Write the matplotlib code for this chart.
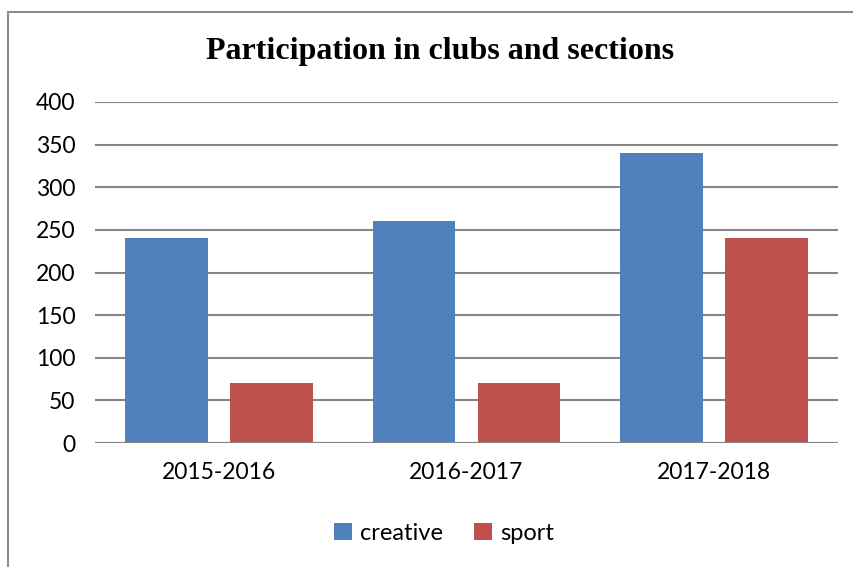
import numpy as np
import matplotlib.pyplot as plt
from matplotlib.patches import Rectangle

# Data
years = ['2015-2016', '2016-2017', '2017-2018']
creative = [240, 260, 340]
sport = [70, 70, 240]
yticks = [0, 50, 100, 150, 200, 250, 300, 350, 400]

W, H = 854, 567
fig = plt.figure(figsize=(W / 100, H / 100), dpi=100)
fig.patch.set_facecolor('white')

# outer frame of the chart object (right/bottom edges fall outside the image)
fig.add_artist(Rectangle((8 / W, -0.05), 1.2, 1 - 12 / H + 0.05,
                         transform=fig.transFigure, fill=False,
                         edgecolor='#8c8c8c', linewidth=1.5))

ax = fig.add_axes([95 / W, 1 - 443 / H, (838 - 95) / W, (443 - 102) / H])

x = np.arange(len(years))
bw = 0.335
off = 0.212
ax.bar(x - off, creative, width=bw, color='#4f81bd', label='creative', zorder=3)
ax.bar(x + off, sport, width=bw, color='#c0504d', label='sport', zorder=3)

ax.set_xlim(-0.5, 2.5)
ax.set_ylim(0, 400)
ax.set_yticks(yticks)
ax.grid(axis='y', color='#868686', linewidth=1.5, zorder=0)
ax.axhline(0, color='#868686', linewidth=1.5, zorder=4)
for s in ax.spines.values():
    s.set_visible(False)

ax.set_xticks(x)
ax.set_xticklabels(years)
ax.tick_params(axis='both', length=0, labelsize=16.5)
ax.tick_params(axis='x', pad=14)
ax.tick_params(axis='y', pad=14)
for lab in ax.get_xticklabels() + ax.get_yticklabels():
    lab.set_fontfamily('Lato')

fig.text(440 / W, 1 - 52 / H, 'Participation in clubs and sections',
         ha='center', va='center', fontsize=23, fontweight='bold',
         fontfamily='Liberation Serif')

leg = fig.legend(loc='center', bbox_to_anchor=(444 / W, 1 - 533 / H), ncol=2,
                 frameon=False, prop={'family': 'Lato', 'size': 17},
                 handlelength=0.75, handleheight=0.75, handletextpad=0.35,
                 columnspacing=1.3)

fig.savefig('out.png', dpi=100)
